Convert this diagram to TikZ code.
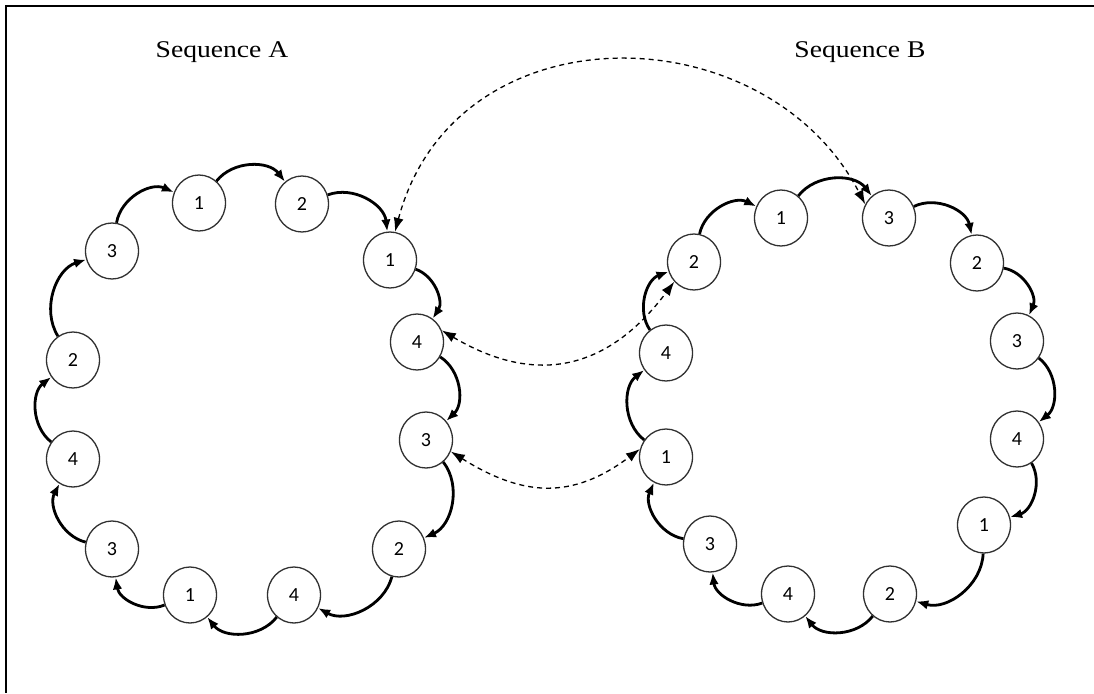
\documentclass[tikz,border=0pt]{standalone}
\usepackage{fontspec}
\setmainfont{Liberation Serif}
\newfontfamily\titlefont[FakeStretch=1.15]{Liberation Serif}
\newfontfamily\numfont{Carlito}
\usetikzlibrary{shapes.geometric,arrows.meta}

\definecolor{ringline}{HTML}{303030}

\tikzset{
  seqnode/.style={ellipse, draw=ringline, line width=1.3pt, fill=white,
    minimum width=53pt, minimum height=56pt, inner sep=0pt,
    font=\numfont\fontsize{20}{20}\selectfont},
  title/.style={anchor=base, inner sep=0pt,
    font=\titlefont\fontsize{24}{28}\selectfont},
  hop/.style={line width=2.8pt, bend left=52,
    -{Latex[length=12pt,width=9.5pt]}},
  link/.style={line width=1.3pt, dash pattern=on 5pt off 4pt,
    {Latex[length=14pt,width=10pt]}-{Latex[length=14pt,width=10pt]}}
}

\begin{document}
\begin{tikzpicture}[x=1pt,y=1pt]
\useasboundingbox (0,0) rectangle (1094,-693);

% frame: top and left edges
\draw[line width=2pt] (1094,-6) -- (6,-6) -- (6,-693);

% titles
\node[title] (tA) at (222,-57) {Sequence A};
\node[title] (tB) at (860,-57) {Sequence B};

% Sequence A, clockwise from the top
\node[seqnode] (a1)  at (199,-203) {1};
\node[seqnode] (a2)  at (302,-204) {2};
\node[seqnode] (a3)  at (390,-260) {1};
\node[seqnode] (a4)  at (417,-342) {4};
\node[seqnode] (a5)  at (426,-440) {3};
\node[seqnode] (a6)  at (399,-549) {2};
\node[seqnode] (a7)  at (294,-595) {4};
\node[seqnode] (a8)  at (190,-595) {1};
\node[seqnode] (a9)  at (112,-549) {3};
\node[seqnode] (a10) at (73,-459)  {4};
\node[seqnode] (a11) at (73,-360)  {2};
\node[seqnode] (a12) at (112,-251) {3};

% Sequence B, clockwise from the top
\node[seqnode] (b1)  at (781,-218)  {1};
\node[seqnode] (b2)  at (889,-218)  {3};
\node[seqnode] (b3)  at (977,-263)  {2};
\node[seqnode] (b4)  at (1017,-341) {3};
\node[seqnode] (b5)  at (1017,-439) {4};
\node[seqnode] (b6)  at (984,-525)  {1};
\node[seqnode] (b7)  at (890,-594)  {2};
\node[seqnode] (b8)  at (788,-594)  {4};
\node[seqnode] (b9)  at (710,-544)  {3};
\node[seqnode] (b10) at (666,-457)  {1};
\node[seqnode] (b11) at (666,-353)  {4};
\node[seqnode] (b12) at (694,-262)  {2};

% successor arrows around each ring
\foreach \i/\j in {1/2,2/3,3/4,4/5,5/6,6/7,7/8,8/9,9/10,10/11,11/12,12/1}{
  \draw[hop] (a\i) to (a\j);
  \draw[hop] (b\i) to (b\j);
}

% links between the two rings
\draw[link] (a3.80) .. controls +(60,225) and +(-100,193) .. (b2.150);
\draw[link] (a4.25) .. controls +(86,-51) and +(-72,-96) .. (b12.225);
\draw[link] (a5.-25) .. controls +(72,-45) and +(-68,-51) .. (b10.163);
\end{tikzpicture}
\end{document}
